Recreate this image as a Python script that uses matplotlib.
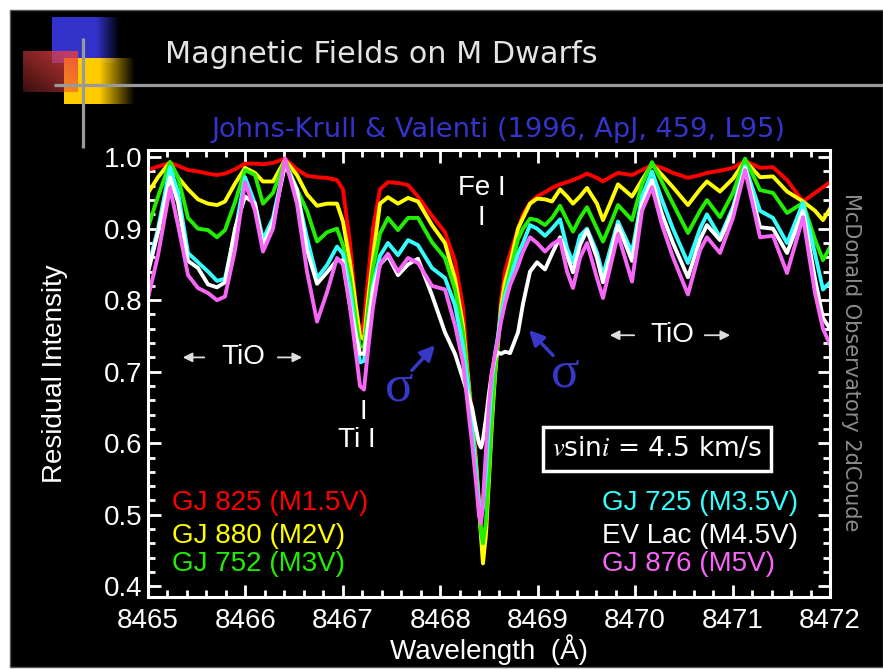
import numpy as np
import matplotlib
matplotlib.use("Agg")
import matplotlib.pyplot as plt
from matplotlib.patches import Rectangle
from matplotlib.ticker import MultipleLocator

plt.rcParams['font.family'] = ['Liberation Sans', 'DejaVu Sans']
plt.rcParams['mathtext.fontset'] = 'stix'

# ------------------------
# spectra (wavelength in Angstrom, residual intensity)
# ------------------------
wave = [8465.000, 8465.103, 8465.226, 8465.308, 8465.411, 8465.513, 8465.616, 8465.708, 8465.790, 8465.893,
        8465.996, 8466.098, 8466.180, 8466.283, 8466.406, 8466.529, 8466.632, 8466.735, 8466.837, 8466.940,
        8467.001, 8467.073, 8467.135, 8467.176, 8467.217, 8467.258, 8467.309, 8467.381, 8467.463, 8467.566,
        8467.669, 8467.771, 8467.915, 8468.048, 8468.151, 8468.233, 8468.284, 8468.326, 8468.367, 8468.397,
        8468.418, 8468.438, 8468.469, 8468.500, 8468.531, 8468.562, 8468.592, 8468.623, 8468.664, 8468.716,
        8468.798, 8468.849, 8468.921, 8468.993, 8469.075, 8469.147, 8469.229, 8469.301, 8469.362, 8469.434,
        8469.506, 8469.608, 8469.670, 8469.742, 8469.824, 8469.968, 8470.070, 8470.173, 8470.276, 8470.388,
        8470.542, 8470.666, 8470.737, 8470.871, 8471.004, 8471.128, 8471.282, 8471.415, 8471.559, 8471.723,
        8471.846, 8471.928, 8472.000]

gj825 = [0.982, 0.987, 0.992, 0.988, 0.982, 0.980, 0.977, 0.975, 0.977, 0.983,
         0.991, 0.991, 0.990, 0.992, 0.998, 0.983, 0.974, 0.972, 0.971, 0.968,
         0.955, 0.880, 0.790, 0.752, 0.770, 0.830, 0.900, 0.955, 0.965, 0.964,
         0.961, 0.945, 0.918, 0.895, 0.855, 0.790, 0.700, 0.640, 0.580, 0.520,
         0.480, 0.435, 0.470, 0.560, 0.640, 0.700, 0.745, 0.800, 0.840, 0.865,
         0.900, 0.920, 0.936, 0.945, 0.951, 0.957, 0.962, 0.965, 0.968, 0.972,
         0.977, 0.971, 0.966, 0.972, 0.978, 0.975, 0.982, 0.989, 0.985, 0.978,
         0.971, 0.975, 0.978, 0.981, 0.985, 0.995, 0.985, 0.986, 0.968, 0.938,
         0.950, 0.958, 0.965]

gj880 = [0.950, 0.972, 0.993, 0.972, 0.955, 0.941, 0.935, 0.933, 0.938, 0.963,
         0.985, 0.978, 0.966, 0.966, 0.996, 0.975, 0.948, 0.932, 0.935, 0.935,
         0.910, 0.853, 0.790, 0.750, 0.745, 0.800, 0.860, 0.935, 0.944, 0.935,
         0.943, 0.938, 0.905, 0.880, 0.830, 0.765, 0.690, 0.630, 0.570, 0.510,
         0.470, 0.432, 0.475, 0.550, 0.630, 0.695, 0.740, 0.790, 0.825, 0.850,
         0.900, 0.915, 0.935, 0.942, 0.941, 0.938, 0.955, 0.945, 0.935, 0.945,
         0.957, 0.935, 0.912, 0.935, 0.962, 0.945, 0.968, 0.990, 0.975, 0.958,
         0.933, 0.955, 0.966, 0.952, 0.970, 0.995, 0.972, 0.973, 0.952, 0.938,
         0.925, 0.912, 0.928]

gj752 = [0.902, 0.945, 0.993, 0.972, 0.915, 0.900, 0.898, 0.888, 0.898, 0.937,
         0.982, 0.975, 0.935, 0.950, 0.996, 0.955, 0.925, 0.882, 0.895, 0.900,
         0.877, 0.831, 0.770, 0.735, 0.735, 0.785, 0.845, 0.893, 0.915, 0.898,
         0.915, 0.915, 0.881, 0.859, 0.815, 0.755, 0.690, 0.630, 0.570, 0.515,
         0.475, 0.460, 0.490, 0.560, 0.640, 0.700, 0.745, 0.780, 0.810, 0.840,
         0.885, 0.900, 0.914, 0.912, 0.905, 0.915, 0.932, 0.912, 0.896, 0.915,
         0.930, 0.900, 0.882, 0.905, 0.933, 0.912, 0.962, 0.993, 0.965, 0.935,
         0.894, 0.925, 0.940, 0.916, 0.950, 0.998, 0.954, 0.950, 0.922, 0.936,
         0.885, 0.856, 0.874]

gj725 = [0.845, 0.900, 0.986, 0.951, 0.866, 0.853, 0.840, 0.827, 0.830, 0.895,
         0.972, 0.935, 0.885, 0.915, 0.993, 0.951, 0.887, 0.831, 0.849, 0.875,
         0.865, 0.815, 0.750, 0.713, 0.715, 0.760, 0.820, 0.862, 0.880, 0.863,
         0.884, 0.877, 0.845, 0.831, 0.793, 0.735, 0.680, 0.620, 0.560, 0.515,
         0.495, 0.510, 0.560, 0.630, 0.690, 0.725, 0.750, 0.780, 0.805, 0.830,
         0.865, 0.880, 0.905, 0.900, 0.890, 0.900, 0.913, 0.873, 0.853, 0.890,
         0.900, 0.867, 0.835, 0.870, 0.910, 0.867, 0.945, 0.980, 0.940, 0.900,
         0.852, 0.900, 0.920, 0.888, 0.930, 0.988, 0.925, 0.915, 0.880, 0.936,
         0.865, 0.815, 0.825]

evlac = [0.839, 0.895, 0.972, 0.937, 0.855, 0.845, 0.822, 0.818, 0.825, 0.900,
         0.945, 0.935, 0.875, 0.909, 0.989, 0.955, 0.870, 0.823, 0.839, 0.856,
         0.855, 0.793, 0.750, 0.725, 0.725, 0.765, 0.815, 0.850, 0.862, 0.835,
         0.850, 0.858, 0.807, 0.755, 0.725, 0.690, 0.668, 0.650, 0.620, 0.600,
         0.594, 0.605, 0.635, 0.670, 0.700, 0.720, 0.727, 0.725, 0.728, 0.726,
         0.755, 0.795, 0.840, 0.853, 0.843, 0.865, 0.888, 0.863, 0.839, 0.877,
         0.898, 0.859, 0.825, 0.860, 0.905, 0.855, 0.935, 0.968, 0.920, 0.880,
         0.832, 0.885, 0.905, 0.884, 0.925, 0.985, 0.902, 0.900, 0.866, 0.925,
         0.830, 0.775, 0.760]

gj876 = [0.803, 0.863, 0.957, 0.905, 0.835, 0.817, 0.810, 0.800, 0.805, 0.870,
         0.965, 0.925, 0.868, 0.900, 0.998, 0.935, 0.840, 0.770, 0.811, 0.859,
         0.850, 0.790, 0.725, 0.680, 0.675, 0.730, 0.790, 0.850, 0.865, 0.840,
         0.859, 0.852, 0.820, 0.815, 0.765, 0.713, 0.650, 0.600, 0.545, 0.500,
         0.488, 0.520, 0.590, 0.655, 0.700, 0.725, 0.745, 0.770, 0.795, 0.821,
         0.848, 0.868, 0.888, 0.880, 0.868, 0.878, 0.885, 0.840, 0.817, 0.859,
         0.880, 0.831, 0.803, 0.845, 0.892, 0.826, 0.925, 0.958, 0.905, 0.860,
         0.808, 0.870, 0.888, 0.866, 0.915, 0.982, 0.888, 0.890, 0.838, 0.916,
         0.810, 0.760, 0.738]

star_names = ['GJ 825 (M1.5V)', 'GJ 880 (M2V)', 'GJ 752 (M3V)',
              'GJ 725 (M3.5V)', 'EV Lac (M4.5V)', 'GJ 876 (M5V)']
star_colors = ['#ff0000', '#ffff00', '#22ee00', '#33ffff', '#ffffff', '#f766f7']
spectra = [gj825, gj880, gj752, gj725, evlac, gj876]

# ------------------------
# slide background (pixel coordinates)
# ------------------------
W, H = 883, 669
fig = plt.figure(figsize=(W / 100, H / 100), dpi=100, facecolor='white')

bg = fig.add_axes([0, 0, 1, 1])
bg.axis('off')
bg.add_patch(Rectangle((10, 10), W - 10, 657, facecolor='black', edgecolor='#555555', lw=1))

def gradient_box(x0, x1, y0, y1, rgb, alpha, z):
    n = 80
    X, Y = np.meshgrid(np.linspace(0, 1, n), np.linspace(0, 1, n))
    img = np.zeros((n, n, 4))
    for i in range(3):
        img[..., i] = rgb[i]
    img[..., 3] = np.clip(alpha(X, Y), 0, 1)
    bg.imshow(img, extent=(x0, x1, y1, y0), aspect='auto', zorder=z, interpolation='bilinear')

gradient_box(52, 120, 17, 63, (0.2, 0.2, 0.8), lambda X, Y: np.clip((1 - X) / 0.35, 0, 1), 2)
gradient_box(64, 135, 58, 104, (1.0, 0.8, 0.0), lambda X, Y: np.clip((1 - X) / 0.5, 0, 1), 3)
gradient_box(23, 78, 51, 92, (0.92, 0.25, 0.25), lambda X, Y: 0.25 + 0.6 * (X + 1 - Y) / 2, 4)

bg.plot([54, W], [85, 85], color='#9a9a9a', lw=2.3, solid_capstyle='butt', zorder=5)
bg.plot([83, 83], [38, 148], color='#9a9a9a', lw=2.3, solid_capstyle='butt', zorder=5)

bg.text(165, 63, 'Magnetic Fields on M Dwarfs', family='DejaVu Sans', fontsize=21.8,
        color='#e4e4e4', ha='left', va='baseline', zorder=6)
bg.text(498, 137, 'Johns-Krull & Valenti (1996, ApJ, 459, L95)', family='DejaVu Sans',
        fontsize=19.6, color='#3434cc', ha='center', va='baseline', zorder=6)
bg.text(851, 362, 'McDonald Observatory 2dCoude', family='DejaVu Sans', fontsize=15,
        color='#8c8c8c', rotation=-90, ha='center', va='center', zorder=6)

bg.set_xlim(0, W)
bg.set_ylim(H, 0)

# ------------------------
# spectra panel
# ------------------------
ax = fig.add_axes([148 / W, 1 - 597 / H, (830 - 148) / W, (597 - 150) / H])
ax.patch.set_visible(False)

for vals, col in zip(spectra, star_colors):
    ax.plot(wave, vals, color=col, lw=2.8)

ax.set_xlim(8465, 8472)
ax.set_ylim(0.385, 1.01)
ax.xaxis.set_major_locator(MultipleLocator(1))
ax.xaxis.set_minor_locator(MultipleLocator(0.2))
ax.yaxis.set_major_locator(MultipleLocator(0.1))
ax.yaxis.set_minor_locator(MultipleLocator(0.02))
ax.xaxis.set_major_formatter(plt.FuncFormatter(lambda v, p: f'{v:.0f}'))
ax.yaxis.set_major_formatter(plt.FuncFormatter(lambda v, p: f'{v:.1f}'))
ax.tick_params(which='both', direction='in', top=True, right=True, color='white',
               width=2, labelcolor='white', labelsize=20)
ax.tick_params(which='major', length=9)
ax.tick_params(which='minor', length=5)
ax.tick_params(axis='x', pad=8)
ax.tick_params(axis='y', pad=4)
for s in ax.spines.values():
    s.set_color('white')
    s.set_linewidth(2.2)

ax.set_xlabel('Wavelength  (\u00c5)', fontsize=20, color='white', va='center')
ax.xaxis.set_label_coords(0.5, -0.117)
ax.set_ylabel('Residual Intensity', fontsize=20, color='white', va='center')
ax.yaxis.set_label_coords(-0.136, 0.5)

# line identifications
ax.text(8468.43, 0.957, 'Fe I', color='white', fontsize=20, ha='center', va='center')
ax.text(8468.42, 0.915, 'I', color='white', fontsize=20, ha='center', va='center')
ax.text(8467.145, 0.604, 'Ti I', color='white', fontsize=20, ha='center', va='center')
ax.text(8467.207, 0.643, 'I', color='white', fontsize=20, ha='center', va='center')

# TiO band labels with arrows
arrow_kw = dict(arrowstyle='-|>', color='#dddddd', lw=1.3, mutation_scale=14)
ax.text(8465.975, 0.720, 'TiO', color='white', fontsize=20, ha='center', va='center')
ax.annotate('', xy=(8465.328, 0.720), xytext=(8465.606, 0.720), arrowprops=arrow_kw)
ax.annotate('', xy=(8466.611, 0.720), xytext=(8466.304, 0.720), arrowprops=arrow_kw)
ax.text(8470.378, 0.751, 'TiO', color='white', fontsize=20, ha='center', va='center')
ax.annotate('', xy=(8469.711, 0.751), xytext=(8470.019, 0.751), arrowprops=arrow_kw)
ax.annotate('', xy=(8471.004, 0.751), xytext=(8470.686, 0.751), arrowprops=arrow_kw)

# sigma components
sig_col = '#3838c8'
ax.text(8467.576, 0.678, '\u03c3', color=sig_col, fontsize=38, family='Liberation Serif',
        ha='center', va='center')
ax.annotate('', xy=(8467.966, 0.740), xytext=(8467.689, 0.699),
            arrowprops=dict(arrowstyle='-|>', color=sig_col, lw=2.5, mutation_scale=22))
ax.text(8469.28, 0.698, '\u03c3', color=sig_col, fontsize=38, family='Liberation Serif',
        ha='center', va='center')
ax.annotate('', xy=(8468.89, 0.761), xytext=(8469.177, 0.720),
            arrowprops=dict(arrowstyle='-|>', color=sig_col, lw=2.5, mutation_scale=22))

ax.text(8470.224, 0.592, r'$v$sin$i$ = 4.5 km/s', color='white', fontsize=19,
        family='DejaVu Sans', ha='center', va='center',
        bbox=dict(boxstyle='square,pad=0.35', facecolor='black', edgecolor='white', lw=2.5))

# star labels
for k, (name, col) in enumerate(zip(star_names, star_colors)):
    x = 8465.246 if k < 3 else 8469.66
    y = [0.517, 0.470, 0.431][k % 3]
    ax.text(x, y, name, color=col, fontsize=20, ha='left', va='center')

fig.savefig('out.png', dpi=100, facecolor='white')
